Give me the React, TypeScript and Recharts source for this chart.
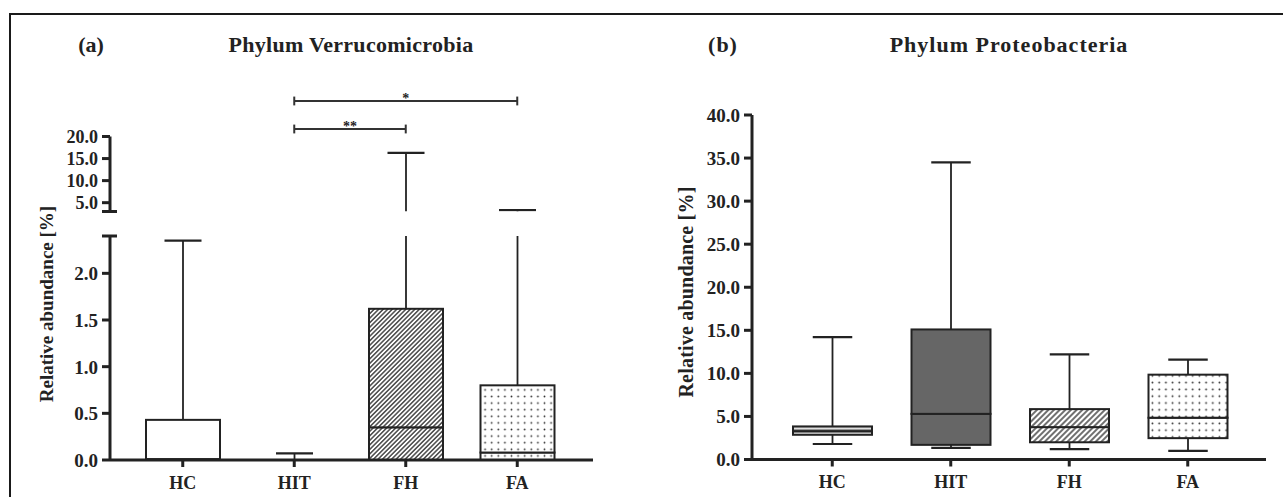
import React from "react";
import { BarChart, Bar, XAxis, YAxis, ReferenceLine } from "recharts";

const groups = ["HC", "HIT", "FH", "FA"];

// (a) Phylum Verrucomicrobia, relative abundance [%]
const verrMin = [0, 0, 0, 0];
const verrQ1 = [0, 0, 0, 0];
const verrMedian = [0.01, 0, 0.35, 0.08];
const verrQ3 = [0.43, 0, 1.62, 0.8];
const verrMax = [2.35, 0.07, 16.3, 3.3];

// (b) Phylum Proteobacteria, relative abundance [%]
const protMin = [1.8, 1.35, 1.2, 1.0];
const protQ1 = [2.87, 1.7, 2.0, 2.48];
const protMedian = [3.3, 5.3, 3.76, 4.85];
const protQ3 = [3.84, 15.1, 5.85, 9.85];
const protMax = [14.2, 34.5, 12.2, 11.6];

// broken y axis of (a): upper and lower parts
const verrUpperTicks = [3, 5, 10, 15, 20];
const verrLowerTicks = [0, 0.5, 1, 1.5, 2, 2.4];
const protTicks = [0, 5, 10, 15, 20, 25, 30, 35, 40];

// significance marks over (a)
const verrSignif = [
  { from: "HIT", to: "FA", label: "*" },
  { from: "HIT", to: "FH", label: "**" },
];

const FONT = "'Liberation Serif', 'Times New Roman', serif";
const INK = "#222";
const TICK_SIZE = 8;
const TICK_GAP = 4;

const toRows = (mins: number[], q1s: number[], meds: number[], q3s: number[], maxs: number[]) =>
  groups.map((name, i) => ({
    name,
    min: mins[i],
    max: maxs[i],
    base: mins[i],
    lowWhisker: q1s[i] - mins[i],
    lowBox: meds[i] - q1s[i],
    highBox: q3s[i] - meds[i],
    highWhisker: maxs[i] - q3s[i],
  }));

const verrRows = toRows(verrMin, verrQ1, verrMedian, verrQ3, verrMax);
const protRows = toRows(protMin, protQ1, protMedian, protQ3, protMax);

const fillsA: Record<string, string> = {
  HC: "#fff",
  HIT: "#fff",
  FH: "url(#hatchA)",
  FA: "url(#dotsA)",
};
const fillsB: Record<string, string> = {
  HC: "url(#stripesB)",
  HIT: "#666",
  FH: "url(#hatchB)",
  FA: "url(#dotsB)",
};

const inside = (v: number, dom: number[]) => v >= dom[0] - 1e-9 && v <= dom[1] + 1e-9;

// bars get cut to the axis domain, so caps are only drawn when the real end is on this axis part
const lowWhiskerShape = (dom: number[]) => (p: any) => {
  const cx = p.x + p.width / 2;
  const half = p.width * 0.25;
  const yb = p.y + p.height;
  return (
    <g>
      {p.height > 0 && <line x1={cx} x2={cx} y1={p.y} y2={yb} stroke={INK} strokeWidth={1.8} />}
      {inside(p.payload.min, dom) && (
        <line x1={cx - half} x2={cx + half} y1={yb} y2={yb} stroke={INK} strokeWidth={2.2} />
      )}
    </g>
  );
};

const highWhiskerShape = (dom: number[]) => (p: any) => {
  const cx = p.x + p.width / 2;
  const half = p.width * 0.25;
  return (
    <g>
      {p.height > 0 && <line x1={cx} x2={cx} y1={p.y} y2={p.y + p.height} stroke={INK} strokeWidth={1.8} />}
      {inside(p.payload.max, dom) && (
        <line x1={cx - half} x2={cx + half} y1={p.y} y2={p.y} stroke={INK} strokeWidth={2.2} />
      )}
    </g>
  );
};

const boxShape = (fills: Record<string, string>) => (p: any) => {
  const name = p.payload?.name ?? groups[p.index];
  if (!(p.height > 0)) return <g />;
  return (
    <rect x={p.x} y={p.y} width={p.width} height={p.height} fill={fills[name]} stroke={INK} strokeWidth={2} />
  );
};

const boxSeries = (fills: Record<string, string>, dom: number[]) => [
  <Bar key="base" dataKey="base" stackId="s" fill="transparent" isAnimationActive={false} />,
  <Bar key="lw" dataKey="lowWhisker" stackId="s" shape={lowWhiskerShape(dom)} isAnimationActive={false} />,
  <Bar key="lb" dataKey="lowBox" stackId="s" shape={boxShape(fills)} isAnimationActive={false} />,
  <Bar key="hb" dataKey="highBox" stackId="s" shape={boxShape(fills)} isAnimationActive={false} />,
  <Bar key="hw" dataKey="highWhisker" stackId="s" shape={highWhiskerShape(dom)} isAnimationActive={false} />,
];

const yTick = (breakAt: number | null, fontSize: number) => (props: any) => {
  const { x, y, payload } = props;
  if (breakAt !== null && Math.abs(payload.value - breakAt) < 1e-9) {
    const ax = x + TICK_SIZE + TICK_GAP;
    return <line x1={ax} x2={ax + 7} y1={y} y2={y} stroke={INK} strokeWidth={3} />;
  }
  return (
    <text x={x} y={y} dy="0.36em" textAnchor="end" fontSize={fontSize} fontWeight={700} fill={INK} fontFamily={FONT}>
      {payload.value.toFixed(1)}
    </text>
  );
};

const axisLine = { stroke: INK, strokeWidth: 3 };
const tickLine = { stroke: INK, strokeWidth: 3 };

const Txt = ({ x, y, size, children, spacing = 0, rotate = false }: any) => (
  <div
    style={{
      position: "absolute",
      left: x,
      top: y,
      transform: `translate(-50%, -50%)${rotate ? " rotate(-90deg)" : ""}`,
      fontSize: size,
      lineHeight: `${size}px`,
      fontWeight: 700,
      letterSpacing: spacing,
      whiteSpace: "nowrap",
      color: INK,
    }}
  >
    {children}
  </div>
);

const patternsA = (
  <defs>
    <pattern id="hatchA" width="3.2" height="10" patternUnits="userSpaceOnUse" patternTransform="rotate(45)">
      <rect width="3.2" height="10" fill="#fff" />
      <line x1="1.6" x2="1.6" y1="0" y2="10" stroke="#111" strokeWidth="1.15" />
    </pattern>
    <pattern id="dotsA" width="6.6" height="6.6" patternUnits="userSpaceOnUse">
      <rect width="6.6" height="6.6" fill="#fff" />
      <circle cx="3.3" cy="3.3" r="0.9" fill="#333" />
    </pattern>
  </defs>
);

const patternsB = (
  <defs>
    <pattern id="hatchB" width="4" height="10" patternUnits="userSpaceOnUse" patternTransform="rotate(45)">
      <rect width="4" height="10" fill="#fff" />
      <line x1="2" x2="2" y1="0" y2="10" stroke="#111" strokeWidth="1.2" />
    </pattern>
    <pattern id="dotsB" width="6.7" height="6.8" patternUnits="userSpaceOnUse">
      <rect width="6.7" height="6.8" fill="#fff" />
      <circle cx="3.3" cy="3.4" r="0.95" fill="#333" />
    </pattern>
    <pattern id="stripesB" width="6" height="2.7" patternUnits="userSpaceOnUse">
      <rect width="6" height="2.7" fill="#e4e4e4" />
      <line x1="0" x2="6" y1="1.35" y2="1.35" stroke="#8a8a8a" strokeWidth="1" />
    </pattern>
  </defs>
);

export default function App() {
  const padA = { left: 17, right: 20 };
  const padB = { left: 21, right: 19 };
  const domUpper = [3, 20];
  const domLower = [0, 2.4];
  const domB = [0, 40];
  const levels = [28.05, 21.7];
  return (
    <div
      style={{
        position: "absolute",
        left: 0,
        top: 0,
        width: 1283,
        height: 497,
        background: "#fff",
        overflow: "hidden",
        fontFamily: FONT,
      }}
    >
      <div style={{ position: "absolute", left: 9, top: 13, width: 1274, borderTop: "2px solid #1a1a1a" }} />
      <div style={{ position: "absolute", left: 9, top: 13, height: 484, borderLeft: "2px solid #1a1a1a" }} />

      <Txt x={91} y={44.5} size={22}>(a)</Txt>
      <Txt x={351} y={44.5} size={22} spacing={0.3}>Phylum Verrucomicrobia</Txt>
      <Txt x={723} y={44.5} size={22} spacing={1}>(b)</Txt>
      <Txt x={1009} y={44.5} size={22} spacing={1}>Phylum Proteobacteria</Txt>
      <Txt x={46} y={304} size={19} rotate>Relative abundance [%]</Txt>
      <Txt x={686} y={292} size={20} spacing={0.2} rotate>Relative abundance [%]</Txt>

      {/* (a) upper part of broken axis */}
      <div style={{ position: "absolute", left: 0, top: 80 }}>
        <BarChart width={640} height={135} data={verrRows} barSize={74} margin={{ top: 56.5, right: 47, bottom: 3.5, left: 0 }}>
          {patternsA}
          <XAxis dataKey="name" hide padding={padA} />
          <YAxis
            type="number"
            domain={domUpper}
            ticks={verrUpperTicks}
            interval={0}
            allowDataOverflow
            width={110}
            tickSize={TICK_SIZE}
            tickMargin={TICK_GAP}
            axisLine={axisLine}
            tickLine={tickLine}
            tick={yTick(3, 18)}
          />
          {boxSeries(fillsA, domUpper)}
          {verrSignif.map((s, i) => (
            <ReferenceLine
              key={`h${i}`}
              segment={[{ x: s.from, y: levels[i] }, { x: s.to, y: levels[i] }]}
              stroke="#333"
              strokeWidth={2}
              ifOverflow="visible"
              label={{ value: s.label, position: "top", offset: -2, fill: INK, fontSize: 14, fontWeight: 700, fontFamily: FONT }}
            />
          ))}
          {verrSignif.flatMap((s, i) =>
            [s.from, s.to].map((g) => (
              <ReferenceLine
                key={`v${i}${g}`}
                segment={[{ x: g, y: levels[i] - 1 }, { x: g, y: levels[i] + 1 }]}
                stroke="#333"
                strokeWidth={2}
                ifOverflow="visible"
              />
            ))
          )}
        </BarChart>
      </div>

      {/* (a) lower part of broken axis */}
      <div style={{ position: "absolute", left: 0, top: 215 }}>
        <BarChart width={640} height={282} data={verrRows} barSize={74} margin={{ top: 21, right: 47, bottom: 0, left: 0 }}>
          {patternsA}
          <XAxis
            dataKey="name"
            padding={padA}
            height={37}
            tickSize={7}
            tickMargin={9}
            axisLine={axisLine}
            tickLine={tickLine}
            tick={{ fill: INK, fontSize: 18, fontWeight: 700, fontFamily: FONT }}
          />
          <YAxis
            type="number"
            domain={domLower}
            ticks={verrLowerTicks}
            interval={0}
            allowDataOverflow
            width={110}
            tickSize={TICK_SIZE}
            tickMargin={TICK_GAP}
            axisLine={axisLine}
            tickLine={tickLine}
            tick={yTick(2.4, 19)}
          />
          {boxSeries(fillsA, domLower)}
        </BarChart>
      </div>

      {/* (b) */}
      <div style={{ position: "absolute", left: 640, top: 80 }}>
        <BarChart width={643} height={417} data={protRows} barSize={79} margin={{ top: 35, right: 17, bottom: 0, left: 0 }}>
          {patternsB}
          <XAxis
            dataKey="name"
            padding={padB}
            height={37.5}
            tickSize={7}
            tickMargin={9}
            axisLine={axisLine}
            tickLine={tickLine}
            tick={{ fill: INK, fontSize: 18, fontWeight: 700, fontFamily: FONT }}
          />
          <YAxis
            type="number"
            domain={domB}
            ticks={protTicks}
            interval={0}
            allowDataOverflow
            width={112}
            tickSize={TICK_SIZE}
            tickMargin={TICK_GAP}
            axisLine={axisLine}
            tickLine={tickLine}
            tick={yTick(null, 19)}
          />
          {boxSeries(fillsB, domB)}
        </BarChart>
      </div>
    </div>
  );
}
